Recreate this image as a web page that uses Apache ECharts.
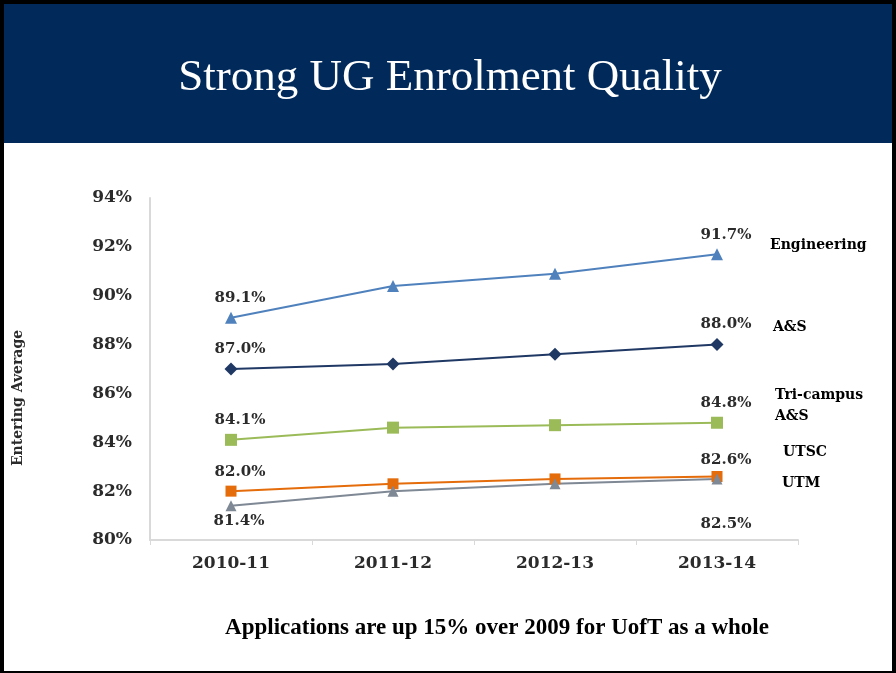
<!DOCTYPE html>
<html>
<head>
<meta charset="utf-8">
<script src="https://cdn.jsdelivr.net/npm/echarts@6/dist/echarts.min.js"></script>
<style>
html, body { margin: 0; padding: 0; background: #fff; }
#main { width: 896px; height: 673px; }
</style>
</head>
<body>
<div id="main"></div>
<script>
// data
var years = ['2010-11', '2011-12', '2012-13', '2013-14'];
var engineering = [89.1, 90.4, 90.9, 91.7];
var artsSci = [87.0, 87.2, 87.6, 88.0];
var triCampus = [84.1, 84.6, 84.7, 84.8];
var utsc = [82.0, 82.3, 82.5, 82.6];
var utm = [81.4, 82.0, 82.3, 82.5];

var serifBold = 'DejaVu Serif';
var labelFont = 'bold 14px "DejaVu Serif"';

// only first and last point carry a value label
function withEndLabels(values, first, last) {
    return values.map(function (v, i) {
        var item = { value: v };
        if (i === 0) item.label = Object.assign({ show: true }, first);
        else if (i === values.length - 1) item.label = Object.assign({ show: true }, last);
        return item;
    });
}

function makeSeries(name, values, color, symbol, size, first, last) {
    return {
        name: name,
        type: 'line',
        data: withEndLabels(values, first, last),
        symbol: symbol,
        symbolSize: size,
        lineStyle: { color: color, width: 2 },
        itemStyle: { color: color },
        label: {
            show: false,
            formatter: function (p) { return p.value.toFixed(1) + '%'; },
            fontFamily: serifBold,
            fontWeight: 'bold',
            fontSize: 15,
            color: '#2b2b2b'
        },
        emphasis: { disabled: true },
        z: 3
    };
}

var up = { position: 'top', distance: 6, offset: [9, 0] };

var chart = echarts.init(document.getElementById('main'));
chart.setOption({
    backgroundColor: '#fff',
    animation: false,
    graphic: [
        { type: 'rect', shape: { x: 0, y: 0, width: 896, height: 673 }, style: { fill: '#000' }, z: -10 },
        { type: 'rect', shape: { x: 4, y: 4, width: 888, height: 667 }, style: { fill: '#fff' }, z: -9 },
        { type: 'rect', shape: { x: 4, y: 4, width: 888, height: 139 }, style: { fill: '#012a5b' }, z: -8 },
        { type: 'text', x: 450, y: 78, style: { text: 'Strong UG Enrolment Quality', fill: '#fff', font: '45px "Liberation Serif"', textAlign: 'center', textVerticalAlign: 'middle' } },
        { type: 'text', x: 497, y: 628, style: { text: 'Applications are up 15% over 2009 for UofT as a whole', fill: '#000', font: 'bold 23px "Liberation Serif"', textAlign: 'center', textVerticalAlign: 'middle' } },
        { type: 'text', x: 18, y: 398, rotation: Math.PI / 2, style: { text: 'Entering Average', fill: '#2b2b2b', font: 'bold 14px "DejaVu Serif"', textAlign: 'center', textVerticalAlign: 'middle' } },
        { type: 'text', x: 770, y: 245, style: { text: 'Engineering', fill: '#000', font: labelFont, textVerticalAlign: 'middle' } },
        { type: 'text', x: 773, y: 327, style: { text: 'A&S', fill: '#000', font: labelFont, textVerticalAlign: 'middle' } },
        { type: 'text', x: 775, y: 395, style: { text: 'Tri-campus', fill: '#000', font: labelFont, textVerticalAlign: 'middle' } },
        { type: 'text', x: 775, y: 416, style: { text: 'A&S', fill: '#000', font: labelFont, textVerticalAlign: 'middle' } },
        { type: 'text', x: 783, y: 452, style: { text: 'UTSC', fill: '#000', font: labelFont, textVerticalAlign: 'middle' } },
        { type: 'text', x: 782, y: 483, style: { text: 'UTM', fill: '#000', font: labelFont, textVerticalAlign: 'middle' } }
    ],
    grid: { left: 150, right: 98, top: 198, bottom: 133 },
    xAxis: {
        type: 'category',
        data: years,
        boundaryGap: true,
        axisLine: { lineStyle: { color: '#d9d9d9', width: 2 } },
        axisTick: { show: true, length: 5, lineStyle: { color: '#d9d9d9', width: 1 } },
        axisLabel: { margin: 15, fontFamily: serifBold, fontWeight: 'bold', fontSize: 17, color: '#2b2b2b' }
    },
    yAxis: {
        type: 'value',
        min: 80,
        max: 94,
        interval: 2,
        axisLine: { show: true, lineStyle: { color: '#d9d9d9', width: 2 } },
        axisTick: { show: false },
        splitLine: { show: false },
        axisLabel: { margin: 18, formatter: '{value}%', fontFamily: serifBold, fontWeight: 'bold', fontSize: 17, color: '#2b2b2b' }
    },
    series: [
        makeSeries('Engineering', engineering, '#4f81bd', 'triangle', 12, up, up),
        makeSeries('A&S', artsSci, '#1f3864', 'diamond', 13, up, up),
        makeSeries('Tri-campus A&S', triCampus, '#9bbb59', 'rect', 12, up, up),
        makeSeries('UTSC', utsc, '#e46c0a', 'rect', 11, up, { position: 'top', distance: 3, offset: [9, 0] }),
        makeSeries('UTM', utm, '#7f8895', 'triangle', 11,
            { position: 'bottom', distance: 2, offset: [8, 0] },
            { position: 'bottom', distance: 2, offset: [9, 30] })
    ]
});
</script>
</body>
</html>
